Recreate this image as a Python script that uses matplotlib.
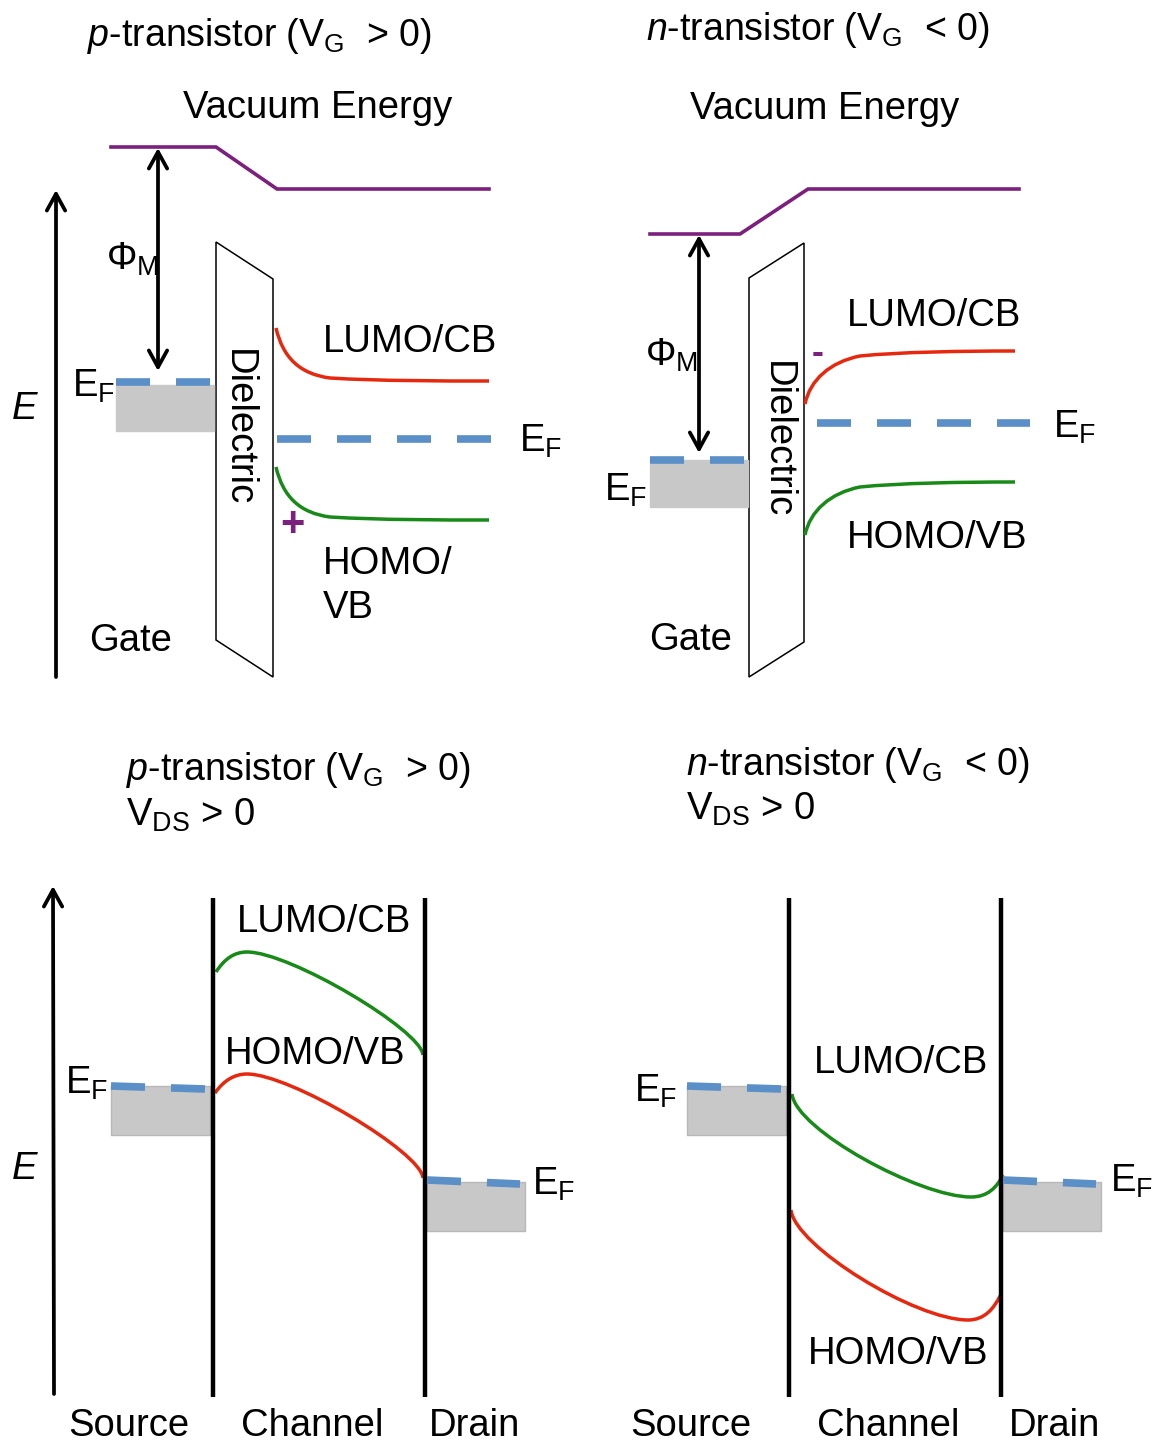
import matplotlib
matplotlib.use("Agg")
import matplotlib.pyplot as plt
from matplotlib.path import Path
from matplotlib.patches import PathPatch, Polygon, Rectangle, FancyArrowPatch

plt.rcParams['font.family'] = ['Liberation Sans', 'DejaVu Sans']
plt.rcParams['mathtext.fontset'] = 'custom'
plt.rcParams['mathtext.rm'] = 'Liberation Sans'
plt.rcParams['mathtext.it'] = 'Liberation Sans:italic'
plt.rcParams['lines.scale_dashes'] = False

W, H = 1152, 1443

PURPLE = "#7d1f7d"
RED = "#e6280f"
GREEN = "#178a17"
BLUE = "#5b8fc8"
GRAY = "#c8c8c8"

# all positions below are image pixels (x right, y down)

# vacuum level
vac_p = [(111, 147), (216, 147), (277, 189), (489, 189)]
vac_n = [(650, 234), (740, 234), (808, 189), (1019, 189)]

# dielectric slabs
diel_p = [(216, 242), (273, 279), (273, 677), (216, 640)]
diel_n = [(749, 278), (804, 243), (804, 642), (749, 677)]

# metal boxes (x0, y0, x1, y1)
gate_p = (116, 385, 214, 431)
gate_n = (650, 460, 748, 507)
src_p = (111, 1086, 210, 1135)
drn_p = (427, 1182, 525, 1231)
src_n = (687, 1086, 786, 1135)
drn_n = (1003, 1182, 1101, 1231)

# fermi levels (x0, y0, x1, y1)
ef_lines = [
    (116, 382, 210, 382),
    (277, 439, 491, 439),
    (650, 460, 744, 460),
    (817, 423, 1030, 423),
    (111, 1086, 205, 1089),
    (427, 1180, 520, 1184),
    (687, 1086, 781, 1089),
    (1003, 1180, 1096, 1184),
]

# band edges, cubic bezier control points
lumo_gate_p = [(276, 328), (283, 358), (300, 374), (330, 378), (380, 381), (440, 381), (489, 381)]
homo_gate_p = [(276, 467), (283, 497), (300, 513), (330, 517), (380, 520), (440, 520), (489, 520)]
lumo_gate_n = [(805, 404), (810, 380), (830, 362), (860, 356), (900, 352), (960, 351), (1015, 351)]
homo_gate_n = [(805, 535), (810, 511), (830, 493), (860, 487), (900, 483), (960, 482), (1015, 482)]

top_ch_p = [(216, 972), (225, 958), (235, 952), (247, 952), (290, 952), (421, 1030), (423, 1055)]
bot_ch_p = [(215, 1093), (224, 1080), (235, 1074), (247, 1074), (290, 1074), (421, 1152), (423, 1178)]
top_ch_n = [(792, 1094), (796, 1130), (920, 1197), (971, 1197), (988, 1197), (997, 1187), (1003, 1175)]
bot_ch_n = [(791, 1210), (795, 1246), (915, 1320), (968, 1320), (985, 1320), (994, 1308), (1000, 1296)]

# contacts in the bottom panels (x, y_top, y_bottom)
contacts = [(213, 898, 1397), (425, 898, 1397), (789, 898, 1397), (1001, 898, 1397)]


def bezier(ax, pts, color):
    codes = [Path.MOVETO] + [Path.CURVE4] * (len(pts) - 1)
    ax.add_patch(PathPatch(Path(pts, codes), fill=False, edgecolor=color, lw=2.5))


def arrow(ax, start, end, style):
    ax.add_patch(FancyArrowPatch(start, end, arrowstyle=style + ",head_length=0.6,head_width=0.33",
                                 mutation_scale=20, lw=2.7, color="black", shrinkA=0, shrinkB=0))


def box(ax, b, edge):
    x0, y0, x1, y1 = b
    ax.add_patch(Rectangle((x0, y0), x1 - x0, y1 - y0, facecolor=GRAY, edgecolor=edge, lw=1))


def label(ax, x, y, s, size=27.5, **kw):
    ax.text(x, y, s, fontsize=size, va="baseline", ha="left", **kw)


fig = plt.figure(figsize=(W / 100, H / 100), dpi=100)
ax = fig.add_axes([0, 0, 1, 1])
ax.set_xlim(0, W)
ax.set_ylim(H, 0)
ax.axis("off")

# vacuum levels
for v in (vac_p, vac_n):
    ax.plot([p[0] for p in v], [p[1] for p in v], color=PURPLE, lw=2.6, solid_joinstyle="miter")

# dielectrics
for d in (diel_p, diel_n):
    ax.add_patch(Polygon(d, closed=True, facecolor="white", edgecolor="black", lw=1.1))

# metals
box(ax, gate_p, GRAY)
box(ax, gate_n, GRAY)
for b in (src_p, drn_p, src_n, drn_n):
    box(ax, b, "#b8b8b8")

# contacts
for x, y0, y1 in contacts:
    ax.plot([x, x], [y0, y1], color="black", lw=3.2, solid_capstyle="butt")

# fermi levels
for x0, y0, x1, y1 in ef_lines:
    ax.plot([x0, x1], [y0, y1], color=BLUE, lw=5.5, linestyle=(0, (24.5, 18.7)), dash_capstyle="butt")

# bands
for pts, c in ((lumo_gate_p, RED), (homo_gate_p, GREEN), (lumo_gate_n, RED), (homo_gate_n, GREEN),
               (top_ch_p, GREEN), (bot_ch_p, RED), (top_ch_n, GREEN), (bot_ch_n, RED)):
    bezier(ax, pts, c)

# energy axes and work functions
arrow(ax, (56, 677), (56, 190), "->")
arrow(ax, (54, 1394), (53, 886), "->")
arrow(ax, (158, 371), (158, 148), "<->")
arrow(ax, (699, 453), (699, 235), "<->")

# texts, top row
label(ax, 87, 46, r"$\mathit{p}$-transistor (V$_\mathrm{G}$  > 0)", size=27)
label(ax, 646, 40, r"$\mathit{n}$-transistor (V$_\mathrm{G}$  < 0)", size=27)
label(ax, 183, 118, "Vacuum Energy")
label(ax, 690, 119, "Vacuum Energy")
label(ax, 12, 419, "E", style="italic")
label(ax, 106, 270, r"Φ$_\mathrm{M}$")
label(ax, 645, 366, r"Φ$_\mathrm{M}$")
label(ax, 72, 397, r"E$_\mathrm{F}$")
label(ax, 519, 452, r"E$_\mathrm{F}$")
label(ax, 604, 501, r"E$_\mathrm{F}$")
label(ax, 1053, 438, r"E$_\mathrm{F}$")
label(ax, 323, 352, "LUMO/CB")
label(ax, 323, 574, "HOMO/")
label(ax, 323, 618, "VB")
label(ax, 847, 326, "LUMO/CB")
label(ax, 847, 548, "HOMO/VB")
label(ax, 89, 651, "Gate")
label(ax, 649, 650, "Gate")
ax.text(238, 428, "Dielectric", fontsize=27.5, rotation=-90, ha="center", va="center")
ax.text(777, 440, "Dielectric", fontsize=27.5, rotation=-90, ha="center", va="center")
ax.text(292, 525, "+", fontsize=30, fontweight="bold", color=PURPLE, ha="center", va="center")
ax.text(818, 354, "-", fontsize=26, fontweight="bold", color=PURPLE, ha="center", va="center")

# texts, bottom row
label(ax, 126, 780, r"$\mathit{p}$-transistor (V$_\mathrm{G}$  > 0)", size=27)
label(ax, 126, 826, r"V$_\mathrm{DS}$ > 0")
label(ax, 686, 775, r"$\mathit{n}$-transistor (V$_\mathrm{G}$  < 0)", size=27)
label(ax, 686, 820, r"V$_\mathrm{DS}$ > 0")
label(ax, 12, 1179, "E", style="italic")
label(ax, 237, 932, "LUMO/CB")
label(ax, 225, 1064, "HOMO/VB")
label(ax, 814, 1073, "LUMO/CB")
label(ax, 808, 1364, "HOMO/VB")
label(ax, 65, 1094, r"E$_\mathrm{F}$")
label(ax, 532, 1195, r"E$_\mathrm{F}$")
label(ax, 634, 1102, r"E$_\mathrm{F}$")
label(ax, 1110, 1192, r"E$_\mathrm{F}$")
for x, s in ((68, "Source"), (241, "Channel"), (429, "Drain"),
             (630, "Source"), (817, "Channel"), (1009, "Drain")):
    label(ax, x, 1436, s)

fig.savefig("out.png", dpi=100)
